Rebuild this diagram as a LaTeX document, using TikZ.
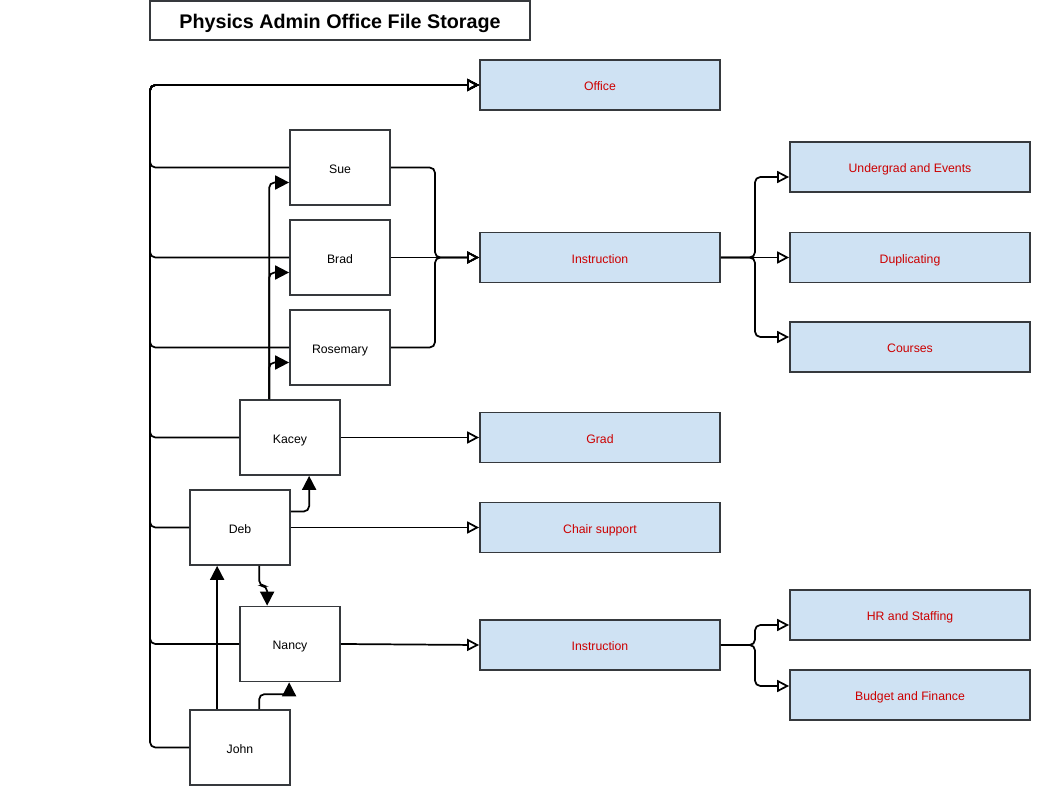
\documentclass[tikz,border=0pt]{standalone}
\usepackage{fontspec}
\setmainfont{Liberation Sans}
\usepackage{tikz}
\usetikzlibrary{arrows.meta,calc}
\usepackage{xcolor}
\definecolor{StoreFill}{HTML}{CFE2F3}
\definecolor{StoreText}{HTML}{CC0000}
\definecolor{StoreEdge}{HTML}{36393D}

\begin{document}
\begin{tikzpicture}[x=0.75pt,y=-0.75pt,font=\fontsize{9.2}{11}\selectfont,
  person/.style={draw=StoreEdge,line width=1.3pt,fill=white,minimum width=75pt,minimum height=56.25pt,inner sep=0pt,text height=8.8pt,text depth=0pt},
  drawer/.style={draw=StoreEdge,line width=1.3pt,fill=StoreFill,text=StoreText,minimum width=180pt,minimum height=37.5pt,inner sep=0pt,text height=8.8pt,text depth=0pt},
  link/.style={line width=1.3pt,rounded corners=4pt},
  file/.style={link,-{Triangle[open,length=9pt,width=9pt,line width=1.3pt]}},
  boss/.style={link,-{Triangle[length=10.5pt,width=10.5pt]}}]
  \useasboundingbox (0,0) rectangle (1053,805);
  \node[draw=StoreEdge,line width=1.3pt,minimum width=285pt,minimum height=29.25pt,inner sep=0pt,
    text height=12.6pt,text depth=0pt,
    font=\fontsize{14.8}{17}\selectfont\bfseries] (title) at (340,20.5) {Physics Admin Office File Storage};

  \node[drawer] (office) at (600,85) {Office};
  \node[drawer] (instrA) at (600,257.5) {Instruction};
  \node[drawer] (grad) at (600,437.5) {Grad};
  \node[drawer] (chair) at (600,527.5) {Chair support};
  \node[drawer] (instrB) at (600,645) {Instruction};
  \node[drawer] (undergrad) at (910,167) {Undergrad and Events};
  \node[drawer] (dup) at (910,257.5) {Duplicating};
  \node[drawer] (courses) at (910,347) {Courses};
  \node[drawer] (hr) at (910,615) {HR and Staffing};
  \node[drawer] (budget) at (910,695) {Budget and Finance};

  \node[person] (sue) at (340,167.5) {Sue};
  \node[person] (brad) at (340,257.5) {Brad};
  \node[person] (rosemary) at (340,347.5) {Rosemary};
  \node[person] (kacey) at (290,437.5) {Kacey};
  \node[person] (deb) at (240,527.5) {Deb};
  \node[person] (nancy) at (290,644) {Nancy};
  \node[person] (john) at (240,747.5) {John};

  \coordinate (bus) at (150,85);
  \coordinate (mergeA) at (435,257.5);
  \coordinate (splitA) at (755,257.5);
  \coordinate (splitB) at (755,645);

  \foreach \p in {john,nancy,deb,kacey,rosemary,brad,sue}
    \draw[file] (\p.west) -- (\p.west -| bus) -- (bus) -- (office.west);

  \draw[file] (sue.east) -| (mergeA) -- (instrA.west);
  \draw[file] (rosemary.east) -| (mergeA) -- (instrA.west);
  \draw[file] (brad.east) -- (instrA.west);
  \draw[file] (kacey.east) -- (grad.west);
  \draw[file] (deb.east) -- (chair.west);
  \draw[file] (nancy.east) -- (instrB.west);

  \draw[file] (instrA.east) -- (splitA) |- ($(undergrad.west)+(0,10)$);
  \draw[file] (instrA.east) -- (dup.west);
  \draw[file] (instrA.east) -- (splitA) |- ($(courses.west)+(0,-10)$);
  \draw[file] (instrB.east) -- (splitB) |- ($(hr.west)+(0,10)$);
  \draw[file] (instrB.east) -- (splitB) |- ($(budget.west)+(0,-9)$);

  \foreach \p in {sue,brad,rosemary}
    \draw[boss] ($(kacey.north west)+(30,0)$) |- ($(\p.west)+(0,15)$);
  \draw[boss] ($(deb.east)+(0,-16)$) -| ($(kacey.south west)+(70,0)$);
  \draw[boss] ($(deb.south west)+(70,0)$) -- ++(0,20) -| ($(nancy.north west)+(28,0)$);
  \draw[boss] ($(john.north west)+(28,0)$) -- ($(deb.south west)+(28,0)$);
  \draw[boss] ($(john.north west)+(70,0)$) -- ++(0,-15) -| ($(nancy.south west)+(50,0)$);
\end{tikzpicture}
\end{document}
